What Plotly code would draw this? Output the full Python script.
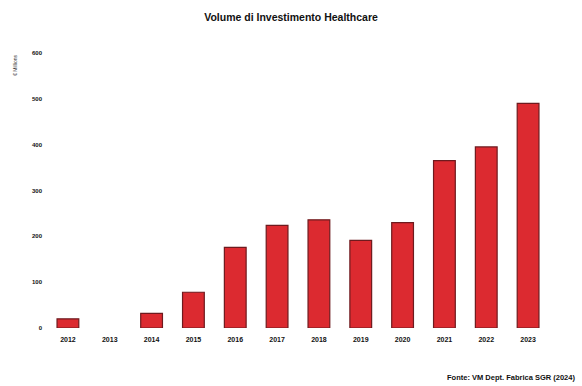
import plotly.graph_objects as go

# Healthcare investment volume per year (€ millions)
years = ["2012", "2013", "2014", "2015", "2016", "2017", "2018", "2019", "2020", "2021", "2022", "2023"]
volumes = [20, 0, 32, 78, 176, 224, 236, 191, 230, 365, 395, 490]
y_ticks = [0, 100, 200, 300, 400, 500, 600]

title_text = "Volume di Investimento Healthcare"
y_title = "€ Millions"
source_text = "Fonte: VM Dept. Fabrica SGR (2024)"

font_family = "Liberation Sans, Arial, sans-serif"

# no outline on empty years so nothing is drawn there
outline_widths = [1.2 if v > 0 else 0 for v in volumes]

fig = go.Figure(
    go.Bar(
        x=years,
        y=volumes,
        marker=dict(color="#dc2a30", line=dict(color="#6e1a1e", width=outline_widths)),
    )
)

fig.update_layout(
    width=582,
    height=386,
    margin=dict(l=47, r=33, t=53, b=58),
    paper_bgcolor="white",
    plot_bgcolor="white",
    bargap=0.48,
    showlegend=False,
    font=dict(family=font_family, color="#111111"),
    title=dict(
        text="<b>" + title_text + "</b>",
        x=0.5,
        xanchor="center",
        y=0.955,
        yanchor="middle",
        font=dict(size=10.5, family=font_family, color="#111111"),
    ),
)

fig.update_xaxes(
    showgrid=False,
    showline=False,
    zeroline=False,
    ticks="",
    tickvals=years,
    ticktext=["<b>%s</b>" % y for y in years],
    tickfont=dict(size=7, family=font_family, color="#111111"),
    ticklabelstandoff=6,
)

fig.update_yaxes(
    range=[0, 600],
    tickvals=y_ticks,
    ticktext=["<b>%d</b>" % v for v in y_ticks],
    showgrid=False,
    showline=False,
    zeroline=False,
    ticks="",
    tickfont=dict(size=6, family=font_family, color="#111111"),
    ticklabelstandoff=4,
)

fig.add_annotation(
    text=y_title,
    textangle=-90,
    xref="paper",
    yref="paper",
    x=-0.065,
    y=1.0,
    xanchor="center",
    yanchor="top",
    showarrow=False,
    font=dict(size=5, family=font_family, color="#333333"),
)

fig.add_annotation(
    text="<b>" + source_text + "</b>",
    xref="paper",
    yref="paper",
    x=1.055,
    y=-0.18,
    xanchor="right",
    yanchor="middle",
    showarrow=False,
    font=dict(size=7.5, family=font_family, color="#111111"),
)

fig.write_html("out.html")
